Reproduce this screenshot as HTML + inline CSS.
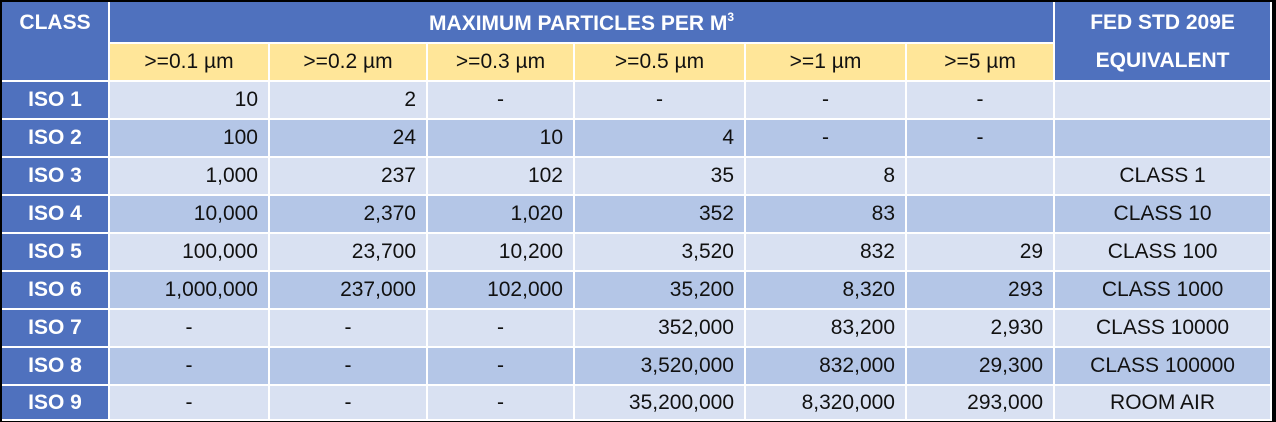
<!DOCTYPE html>
<html><head><meta charset="utf-8"><style>
html,body{margin:0;padding:0;background:#000;width:1276px;height:422px;overflow:hidden}
table{position:absolute;left:2px;top:2px;border-collapse:collapse;table-layout:fixed;width:1269px;font-family:"Liberation Sans",sans-serif;font-size:21px;color:#111}
td{border:2px solid #fff;padding:0 10px;white-space:nowrap;overflow:hidden;text-align:right}
.h{background:#4F71BE;color:#fff;font-weight:bold;text-align:center}
.y{background:#FFE699;text-align:center}
.c{background:#4F71BE;color:#fff;font-weight:bold;text-align:center}
tr.l td{background:#D9E1F2}
tr.d td{background:#B4C6E7}
tr.l td.c,tr.d td.c{background:#4F71BE}
td.m{text-align:center}
tr{height:38px}
sup{font-size:12px;vertical-align:9px}
tr:first-child td{border-top:0}
td:first-child{border-left:0}
</style></head><body>
<table>
<colgroup><col style="width:107px"><col style="width:160px"><col style="width:158px"><col style="width:147px"><col style="width:171px"><col style="width:161px"><col style="width:148px"><col style="width:217px"></colgroup>
<tr style="height:40px"><td class="h" rowspan="2" style="vertical-align:top;padding-top:9px">CLASS</td><td class="h" colspan="6" style="padding-top:2px">MAXIMUM PARTICLES PER M<sup>3</sup></td><td class="h" rowspan="2" style="line-height:38px;padding-top:2px">FED STD 209E<br>EQUIVALENT</td></tr>
<tr><td class="y">&gt;=0.1 µm</td><td class="y">&gt;=0.2 µm</td><td class="y">&gt;=0.3 µm</td><td class="y">&gt;=0.5 µm</td><td class="y">&gt;=1 µm</td><td class="y">&gt;=5 µm</td></tr>
<tr class="l"><td class="c">ISO 1</td><td>10</td><td>2</td><td class="m">-</td><td class="m">-</td><td class="m">-</td><td class="m">-</td><td class="m"></td></tr>
<tr class="d"><td class="c">ISO 2</td><td>100</td><td>24</td><td>10</td><td>4</td><td class="m">-</td><td class="m">-</td><td class="m"></td></tr>
<tr class="l"><td class="c">ISO 3</td><td>1,000</td><td>237</td><td>102</td><td>35</td><td>8</td><td></td><td class="m">CLASS 1</td></tr>
<tr class="d"><td class="c">ISO 4</td><td>10,000</td><td>2,370</td><td>1,020</td><td>352</td><td>83</td><td></td><td class="m">CLASS 10</td></tr>
<tr class="l"><td class="c">ISO 5</td><td>100,000</td><td>23,700</td><td>10,200</td><td>3,520</td><td>832</td><td>29</td><td class="m">CLASS 100</td></tr>
<tr class="d"><td class="c">ISO 6</td><td>1,000,000</td><td>237,000</td><td>102,000</td><td>35,200</td><td>8,320</td><td>293</td><td class="m">CLASS 1000</td></tr>
<tr class="l"><td class="c">ISO 7</td><td class="m">-</td><td class="m">-</td><td class="m">-</td><td>352,000</td><td>83,200</td><td>2,930</td><td class="m">CLASS 10000</td></tr>
<tr class="d"><td class="c">ISO 8</td><td class="m">-</td><td class="m">-</td><td class="m">-</td><td>3,520,000</td><td>832,000</td><td>29,300</td><td class="m">CLASS 100000</td></tr>
<tr class="l" style="height:35px"><td class="c">ISO 9</td><td class="m">-</td><td class="m">-</td><td class="m">-</td><td>35,200,000</td><td>8,320,000</td><td>293,000</td><td class="m">ROOM AIR</td></tr>
</table>
</body></html>
